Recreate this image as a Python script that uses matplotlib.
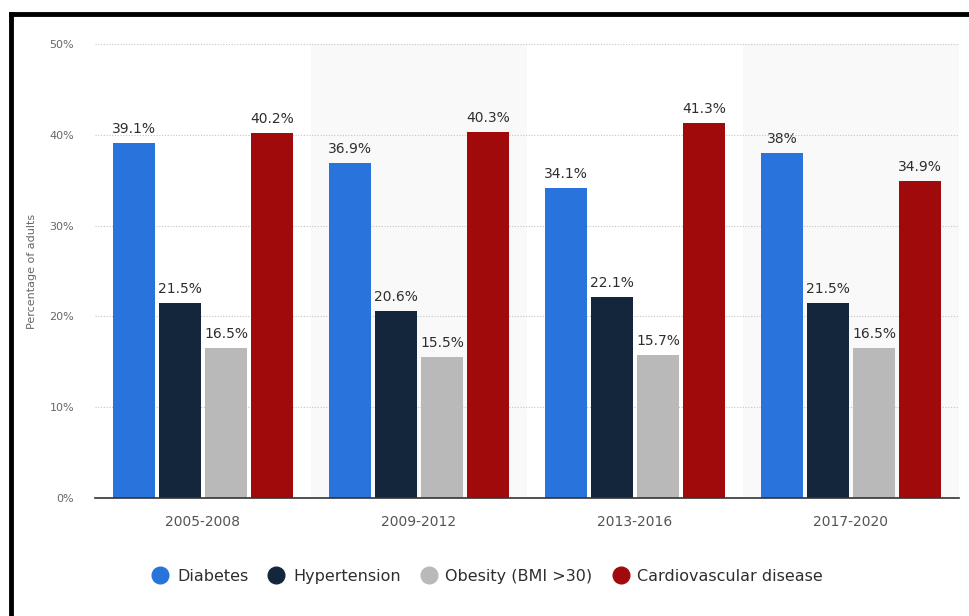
import matplotlib.pyplot as plt
import numpy as np
from matplotlib.lines import Line2D
from matplotlib.patches import Rectangle

plt.rcParams['font.family'] = ['DejaVu Sans']

periods = ['2005-2008', '2009-2012', '2013-2016', '2017-2020']
series = ['Diabetes', 'Hypertension', 'Obesity (BMI >30)', 'Cardiovascular disease']
diabetes = [39.1, 36.9, 34.1, 38]
hypertension = [21.5, 20.6, 22.1, 21.5]
obesity = [16.5, 15.5, 15.7, 16.5]
cardio = [40.2, 40.3, 41.3, 34.9]
labels = [['39.1%', '36.9%', '34.1%', '38%'],
          ['21.5%', '20.6%', '22.1%', '21.5%'],
          ['16.5%', '15.5%', '15.7%', '16.5%'],
          ['40.2%', '40.3%', '41.3%', '34.9%']]
colors = ['#2874dc', '#13263b', '#b9b9b9', '#a10a0b']

fig = plt.figure(figsize=(9.7, 6.16), dpi=100)
ax = fig.add_axes([95 / 970, 118 / 616, 864 / 970, 454 / 616])

x = np.arange(len(periods))
width = 0.198
step = 0.213

# alternating shaded bands behind every other group
for i in x:
    if i % 2 == 1:
        ax.add_patch(Rectangle((i - 0.5, 0), 1, 50, color='#f9f9f9', zorder=0, lw=0))

for k, vals in enumerate([diabetes, hypertension, obesity, cardio]):
    pos = x + (k - 1.5) * step
    ax.bar(pos, vals, width, color=colors[k], zorder=3, label=series[k])
    for px, v, t in zip(pos, vals, labels[k]):
        ax.annotate(t, (px, v), xytext=(0, 5), textcoords='offset points',
                    ha='center', va='bottom', fontsize=10, color='#2e2e2e')

ax.set_xlim(-0.5, 3.5)
ax.set_ylim(0, 50)
ax.set_yticks([0, 10, 20, 30, 40, 50])
ax.set_yticklabels(['0%', '10%', '20%', '30%', '40%', '50%'])
ax.set_xticks(x)
ax.set_xticklabels(periods)
ax.grid(axis='y', linestyle=(0, (1, 1.5)), color='#c4c4c4', linewidth=0.8, zorder=1)
ax.set_axisbelow(True)
for s in ['top', 'right', 'left']:
    ax.spines[s].set_visible(False)
ax.spines['bottom'].set_color('#333333')
ax.spines['bottom'].set_linewidth(1.2)
ax.spines['bottom'].set_zorder(4)
ax.tick_params(axis='y', length=0, labelsize=8, labelcolor='#666666', pad=15)
ax.tick_params(axis='x', length=0, labelsize=10, labelcolor='#555555', pad=12)
ax.set_ylabel('Percentage of adults', fontsize=8, color='#666666', labelpad=9)

ax.legend(loc='center', bbox_to_anchor=(0.455, -0.172), ncol=4, frameon=False,
          fontsize=11.5, labelcolor='#2e2e2e', handlelength=0.9, handleheight=0.9,
          columnspacing=1.3, handletextpad=0.6,
          handles=[Line2D([], [], marker='o', ls='', markersize=12, color=c) for c in colors],
          labels=series)

# frame lines along the top and left edges
fig.add_artist(Line2D([11 / 970, 1], [602 / 616, 602 / 616], color='black', lw=3.5,
                      transform=fig.transFigure))
fig.add_artist(Line2D([11 / 970, 11 / 970], [0, 602 / 616], color='black', lw=3.5,
                      transform=fig.transFigure))

fig.savefig('out.png', dpi=100)
